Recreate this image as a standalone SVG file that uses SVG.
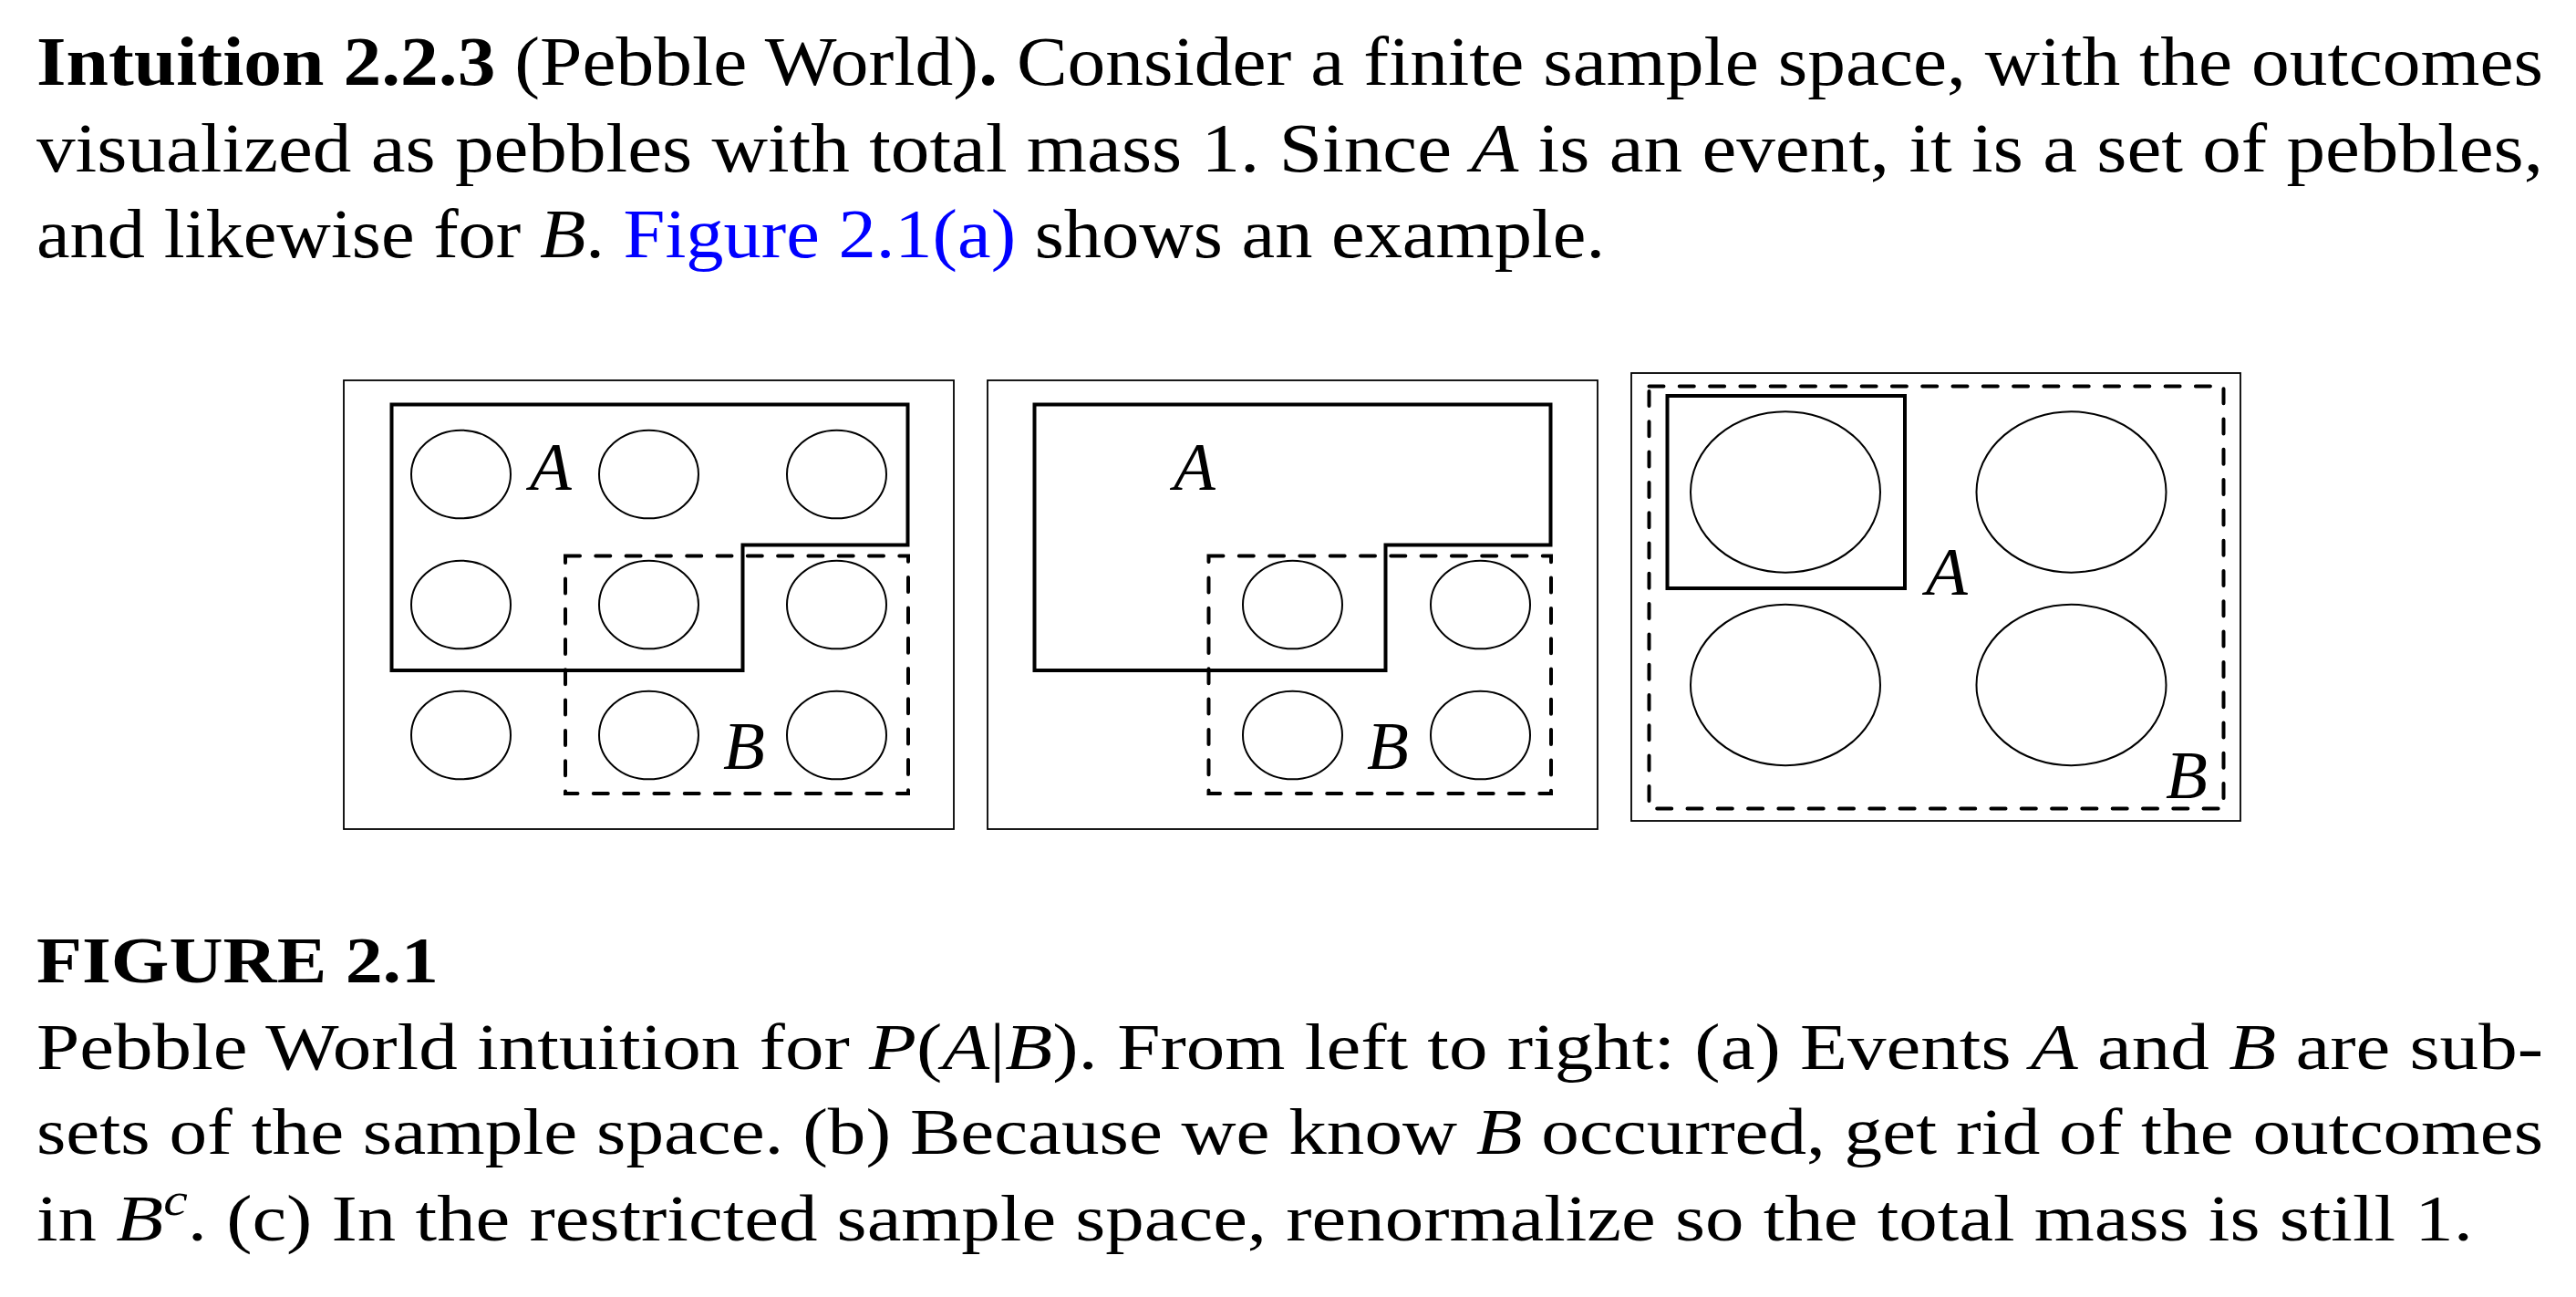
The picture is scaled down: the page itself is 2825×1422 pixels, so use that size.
<svg xmlns="http://www.w3.org/2000/svg" width="2825" height="1422" viewBox="0 0 2825 1422">
<style>
.bg{fill:#fff}
.t{font-family:"Liberation Serif","Times New Roman",serif;font-size:77px;fill:#000}
.c{font-family:"Liberation Serif","Times New Roman",serif;font-size:71px;fill:#000}
.lbl{font-family:"Liberation Serif","Times New Roman",serif;font-size:75px;font-style:italic;fill:#000}
.frame{fill:none;stroke:#000;stroke-width:1.8}
.setA{fill:none;stroke:#000;stroke-width:4;stroke-linejoin:miter}
.setB{fill:none;stroke:#000;stroke-width:4;stroke-linecap:round;stroke-dasharray:16 17.3}
.peb{fill:none;stroke:#000;stroke-width:2}
.link{fill:#0000ff}
</style>
<rect class="bg" x="0" y="0" width="2825" height="1422"/>

<g id="intro-text">
<text class="t" x="40" y="93" textLength="2749" lengthAdjust="spacingAndGlyphs"><tspan font-weight="bold">Intuition 2.2.3</tspan> (Pebble World)<tspan font-weight="bold">.</tspan> Consider a finite sample space, with the outcomes</text>
<text class="t" x="40" y="188" textLength="2749" lengthAdjust="spacingAndGlyphs">visualized as pebbles with total mass 1. Since <tspan font-style="italic">A</tspan> is an event, it is a set of pebbles,</text>
<text class="t" x="40" y="282" textLength="1720" lengthAdjust="spacingAndGlyphs">and likewise for <tspan font-style="italic">B</tspan>. <tspan class="link">Figure 2.1(a)</tspan> shows an example.</text>
</g>

<g id="panel-a">
<rect class="frame" x="377" y="417" width="669" height="492"/>
<path class="setA" d="M429.5,443.5 H995.5 V597.5 H814.5 V735 H429.5 Z"/>
<rect class="setB" x="620" y="609.5" width="376" height="260.5"/>
<g id="pebbles-a">
<ellipse class="peb" cx="505.5" cy="520" rx="54.5" ry="48.3"/>
<ellipse class="peb" cx="711.5" cy="520" rx="54.5" ry="48.3"/>
<ellipse class="peb" cx="917.5" cy="520" rx="54.5" ry="48.3"/>
<ellipse class="peb" cx="505.5" cy="663" rx="54.5" ry="48.3"/>
<ellipse class="peb" cx="711.5" cy="663" rx="54.5" ry="48.3"/>
<ellipse class="peb" cx="917.5" cy="663" rx="54.5" ry="48.3"/>
<ellipse class="peb" cx="505.5" cy="806" rx="54.5" ry="48.3"/>
<ellipse class="peb" cx="711.5" cy="806" rx="54.5" ry="48.3"/>
<ellipse class="peb" cx="917.5" cy="806" rx="54.5" ry="48.3"/>
</g>
<text class="lbl" x="581" y="537">A</text>
<text class="lbl" x="793" y="843">B</text>
</g>

<g id="panel-b">
<rect class="frame" x="1083" y="417" width="669" height="492"/>
<path class="setA" d="M1134.5,443.5 H1700.5 V597.5 H1519.5 V735 H1134.5 Z"/>
<rect class="setB" x="1325.5" y="609.5" width="375.5" height="260.5"/>
<g id="pebbles-b">
<ellipse class="peb" cx="1417.5" cy="663" rx="54.5" ry="48.3"/>
<ellipse class="peb" cx="1623.5" cy="663" rx="54.5" ry="48.3"/>
<ellipse class="peb" cx="1417.5" cy="806" rx="54.5" ry="48.3"/>
<ellipse class="peb" cx="1623.5" cy="806" rx="54.5" ry="48.3"/>
</g>
<text class="lbl" x="1287" y="537">A</text>
<text class="lbl" x="1499" y="843">B</text>
</g>

<g id="panel-c">
<rect class="frame" x="1789" y="409" width="668" height="491"/>
<rect class="setB" x="1808.5" y="423.5" width="630" height="463"/>
<rect class="setA" x="1828.5" y="434" width="260.5" height="211"/>
<g id="pebbles-c">
<ellipse class="peb" cx="1958" cy="539.5" rx="104" ry="88.2"/>
<ellipse class="peb" cx="2271.5" cy="539.5" rx="104" ry="88.2"/>
<ellipse class="peb" cx="1958" cy="751" rx="104" ry="88.2"/>
<ellipse class="peb" cx="2271.5" cy="751" rx="104" ry="88.2"/>
</g>
<text class="lbl" x="2112" y="652">A</text>
<text class="lbl" x="2375" y="875">B</text>
</g>

<g id="caption">
<text class="c" x="40" y="1077" font-weight="bold" textLength="441" lengthAdjust="spacingAndGlyphs">FIGURE 2.1</text>
<text class="c" x="40" y="1172" textLength="2749" lengthAdjust="spacingAndGlyphs">Pebble World intuition for <tspan font-style="italic">P</tspan>(<tspan font-style="italic">A</tspan>|<tspan font-style="italic">B</tspan>). From left to right: (a) Events <tspan font-style="italic">A</tspan> and <tspan font-style="italic">B</tspan> are sub-</text>
<text class="c" x="40" y="1265" textLength="2749" lengthAdjust="spacingAndGlyphs">sets of the sample space. (b) Because we know <tspan font-style="italic">B</tspan> occurred, get rid of the outcomes</text>
<text class="c" x="40" y="1360" textLength="2672" lengthAdjust="spacingAndGlyphs">in <tspan font-style="italic">B</tspan><tspan font-style="italic" font-size="50" dy="-28">c</tspan><tspan dy="28">. (c) In the restricted sample space, renormalize so the total mass is still 1.</tspan></text>
</g>
</svg>
